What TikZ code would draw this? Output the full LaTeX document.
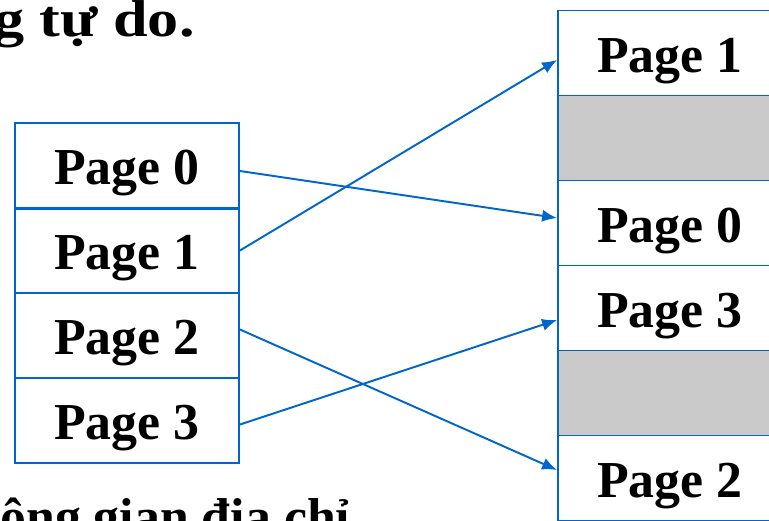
\documentclass[tikz,border=0pt]{standalone}
\usepackage{fontspec}
\setmainfont{Liberation Serif}
\usepackage{xcolor}
\usetikzlibrary{arrows.meta}
\usetikzlibrary{math}
\definecolor{pblue}{RGB}{0,102,204}
\definecolor{pgray}{RGB}{202,202,202}

\begin{document}
\begin{tikzpicture}[x=0.02cm,y=-0.02cm,
  big/.style={font=\fontsize{29.5}{35}\selectfont\bfseries},
  page/.style={big, draw=pblue, line width=1.1pt, minimum width=4.48cm,
    minimum height=1.7cm, inner sep=0pt, text height=28pt, text depth=6pt},
  free/.style={page, fill=pgray},
  map/.style={pblue, line width=1.1pt, -{Latex[length=8.5pt,width=7pt]}}]

\tikzmath{
\lx = 127; %left column centre
\rx = 670; %right column centre
\h = 85;   %row height
\ly = 165.5;
\ry = 53;
}

\useasboundingbox (0,0) rectangle (769,521);

%text above and below
\node[big, anchor=base east, inner sep=0pt] (head) at (195,36) {\scalebox{1.2}[1]{g tự do.}};
\node[big, anchor=base west, inner sep=0pt] (foot) at (0,534) {ông gian địa chỉ};

%logical pages:
\node[page] (l0) at (\lx,\ly) {Page 0};
\node[page] (l1) at (\lx,\ly+\h) {Page 1};
\node[page] (l2) at (\lx,\ly+2*\h) {Page 2};
\node[page] (l3) at (\lx,\ly+3*\h) {Page 3};
\draw[pblue, line width=1.7pt] (l0.south west) -- (l0.south east);

%physical frames:
\node[page] (r1) at (\rx,\ry) {Page 1};
\node[free] (f0) at (\rx,\ry+\h) {};
\node[page] (r0) at (\rx,\ry+2*\h) {Page 0};
\node[page] (r3) at (\rx,\ry+3*\h) {Page 3};
\node[free] (f1) at (\rx,\ry+4*\h) {};
\node[page] (r2) at (\rx,\ry+5*\h) {Page 2};

%mapping
\draw[map] ([yshift=-0.11cm]l0.east) -- ([yshift=0.1cm]r0.west);
\draw[map] (l1.east) -- ([yshift=-0.14cm]r1.west);
\draw[map] ([yshift=0.12cm]l2.east) -- ([yshift=0.16cm]r2.west);
\draw[map] ([yshift=-0.08cm]l3.east) -- ([yshift=-0.24cm]r3.west);

\end{tikzpicture}
\end{document}
